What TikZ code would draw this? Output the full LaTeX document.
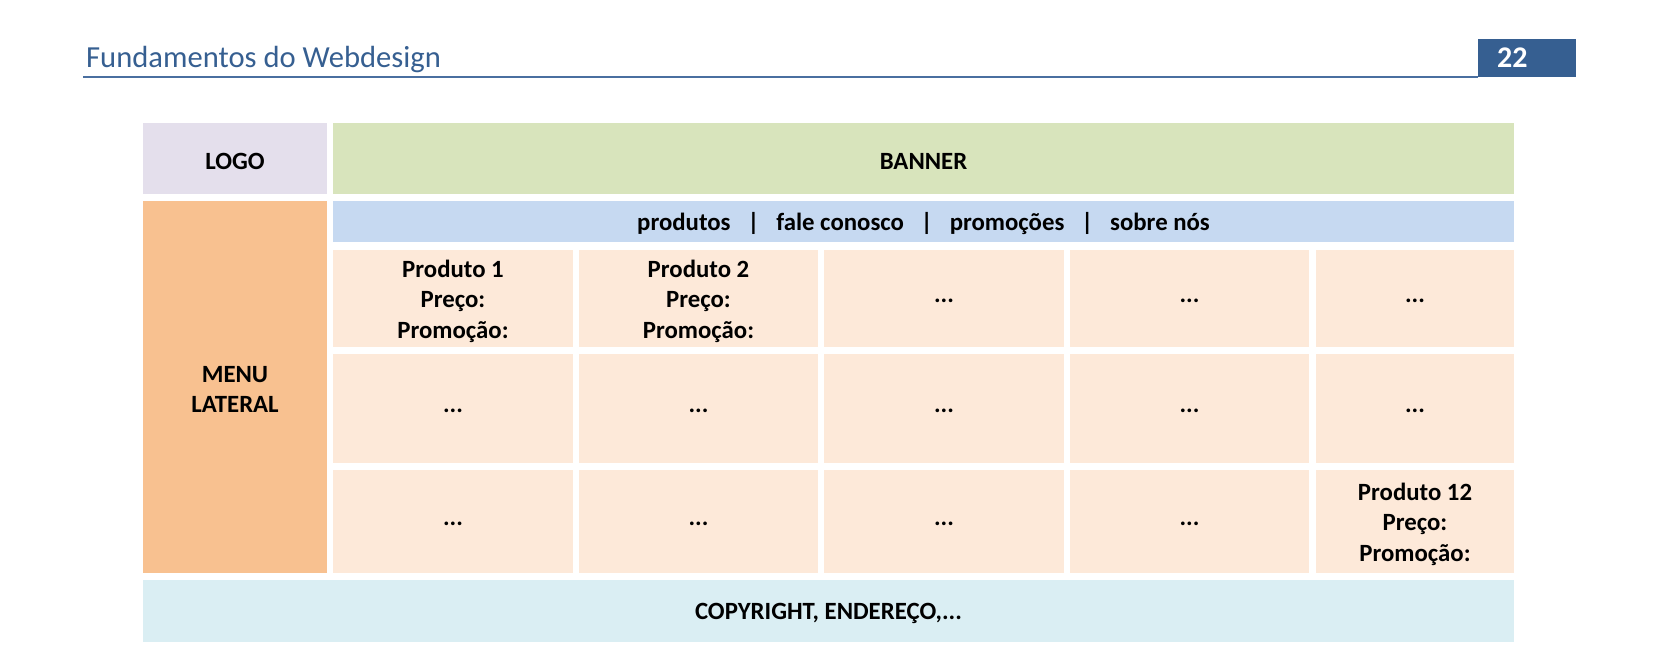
\documentclass[tikz,border=0pt]{standalone}
\usepackage{fontspec}
\setmainfont{Carlito}
\definecolor{headblue}{HTML}{365F91}
\definecolor{rulecol}{HTML}{4A6FA0}
\definecolor{logocol}{HTML}{E4DFEC}
\definecolor{bannercol}{HTML}{D8E4BC}
\definecolor{menucol}{HTML}{F8C190}
\definecolor{navcol}{HTML}{C6D9F1}
\definecolor{cellcol}{HTML}{FDE9D9}
\definecolor{footcol}{HTML}{DAEEF3}
\begin{document}
\begin{tikzpicture}[x=1pt,y=-1pt,
  blk/.style={inner sep=0pt, outer sep=0pt},
  lbl/.style={inner sep=0pt, outer sep=0pt, align=center, text=black, yshift=-2.5pt,
    font=\fontsize{24.8}{30.5}\selectfont\bfseries},
]
\useasboundingbox (0,0) rectangle (1654,654);
% header
\node[anchor=base west, inner sep=0pt, text=headblue, font=\fontsize{30.6}{32}\selectfont] (title) at (86,67) {Fundamentos do Webdesign};
\coordinate (rulea) at (83,77);
\coordinate (ruleb) at (1478,77);
\draw[rulecol, line width=1.5pt] (rulea) -- (ruleb);
\node[fill=headblue, minimum width=98pt, minimum height=38pt, inner sep=0pt, anchor=north west] (pagebox) at (1478,39) {};
\node[anchor=base west, inner sep=0pt, text=white, font=\fontsize{30}{32}\selectfont\bfseries] (pagenum) at (1497,67) {22};
% blocks: x1,y1,x2,y2,colour,name,text
\newcommand{\blockat}[7]{%
  \node[blk, fill=#5, minimum width=#3-#1, minimum height=#4-#2, anchor=north west] (#6) at (#1,#2) {};
  \node[lbl] (#6-t) at (#6.center) {#7};}
\blockat{143}{123}{327}{194}{logocol}{logo}{LOGO}
\blockat{333}{123}{1514}{194}{bannercol}{banner}{BANNER}
\blockat{143}{201}{327}{573}{menucol}{menu}{MENU\\LATERAL}
\blockat{333}{201}{1514}{242}{navcol}{nav}{produtos\hspace{17pt}|\hspace{17pt}fale conosco\hspace{17pt}|\hspace{17pt}promoções\hspace{17pt}|\hspace{17pt}sobre nós}
% grid row 1
\blockat{333}{250}{573}{347}{cellcol}{c11}{Produto 1\\Preço:\\Promoção:}
\blockat{579}{250}{818}{347}{cellcol}{c12}{Produto 2\\Preço:\\Promoção:}
\blockat{824}{250}{1064}{347}{cellcol}{c13}{...}
\blockat{1070}{250}{1309}{347}{cellcol}{c14}{...}
\blockat{1316}{250}{1514}{347}{cellcol}{c15}{...}
% grid row 2
\blockat{333}{354}{573}{463}{cellcol}{c21}{...}
\blockat{579}{354}{818}{463}{cellcol}{c22}{...}
\blockat{824}{354}{1064}{463}{cellcol}{c23}{...}
\blockat{1070}{354}{1309}{463}{cellcol}{c24}{...}
\blockat{1316}{354}{1514}{463}{cellcol}{c25}{...}
% grid row 3
\blockat{333}{470}{573}{573}{cellcol}{c31}{...}
\blockat{579}{470}{818}{573}{cellcol}{c32}{...}
\blockat{824}{470}{1064}{573}{cellcol}{c33}{...}
\blockat{1070}{470}{1309}{573}{cellcol}{c34}{...}
\blockat{1316}{470}{1514}{573}{cellcol}{c35}{Produto 12\\Preço:\\Promoção:}
% footer
\blockat{143}{580}{1514}{642}{footcol}{footer}{COPYRIGHT, ENDEREÇO,...}
\end{tikzpicture}
\end{document}
